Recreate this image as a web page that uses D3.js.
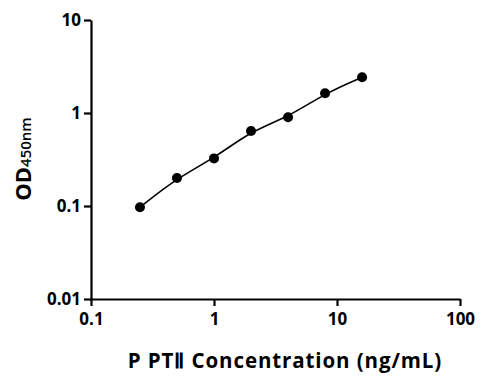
<!DOCTYPE html>
<html><head><meta charset="utf-8">
<script src="https://cdn.jsdelivr.net/npm/d3@7/dist/d3.min.js"></script>
<style>body{margin:0;background:#fff}svg{display:block}text{font-family:"Open Sans",Arial,sans-serif;font-weight:bold;fill:#000}</style>
</head><body><svg id="c" width="488" height="391"></svg>
<script>
const concentrations = [0.25, 0.5, 1, 2, 4, 8, 16];
const odValues = [0.097, 0.20, 0.325, 0.64, 0.90, 1.63, 2.42];
const xTicks = [0.1, 1, 10, 100];
const yTicks = [0.01, 0.1, 1, 10];
const xTickLabels = ["0.1", "1", "10", "100"];
const yTickLabels = ["0.01", "0.1", "1", "10"];

const svg = d3.select("#c");
const x = d3.scaleLog().domain([0.1, 100]).range([91, 460]);
const y = d3.scaleLog().domain([0.01, 10]).range([299, 20]);

const xAxis = d3.axisBottom(x).tickValues(xTicks).tickFormat((d,i)=>xTickLabels[i]).tickSize(7).tickSizeOuter(0).tickPadding(7);
const yAxis = d3.axisLeft(y).tickValues(yTicks).tickFormat((d,i)=>yTickLabels[i]).tickSize(7).tickSizeOuter(0).tickPadding(3);

const gx = svg.append("g").attr("transform","translate(0,299)").call(xAxis);
const gy = svg.append("g").attr("transform","translate(91,0)").call(yAxis);
[gx, gy].forEach(g=>{
  g.select(".domain").attr("stroke","#000").attr("stroke-width",2.2);
  g.selectAll(".tick line").attr("stroke","#000").attr("stroke-width",2.2);
  g.selectAll(".tick text").attr("font-size",17).attr("font-family","'Open Sans',Arial,sans-serif").attr("font-weight","bold").attr("fill","#000");
});

const line = d3.line().x((d,i)=>x(concentrations[i])).y(d=>y(d)).curve(d3.curveBasis);
svg.append("path").datum(odValues).attr("d", line).attr("fill","none").attr("stroke","#000").attr("stroke-width",1.6);

svg.selectAll("circle.pt").data(odValues).enter().append("circle")
  .attr("cx",(d,i)=>x(concentrations[i])).attr("cy",d=>y(d)).attr("r",5).attr("fill","#000");

svg.append("text").attr("x",285).attr("y",368).attr("text-anchor","middle").attr("font-size",20.5).attr("letter-spacing",0.9)
  .text("P PTⅡ Concentration (ng/mL)");

const yt = svg.append("text").attr("transform","translate(31,159) rotate(-90)").attr("text-anchor","middle");
yt.append("tspan").attr("font-size",22).text("OD");
yt.append("tspan").attr("font-size",15).attr("font-weight","600").text("450nm");
</script></body></html>
